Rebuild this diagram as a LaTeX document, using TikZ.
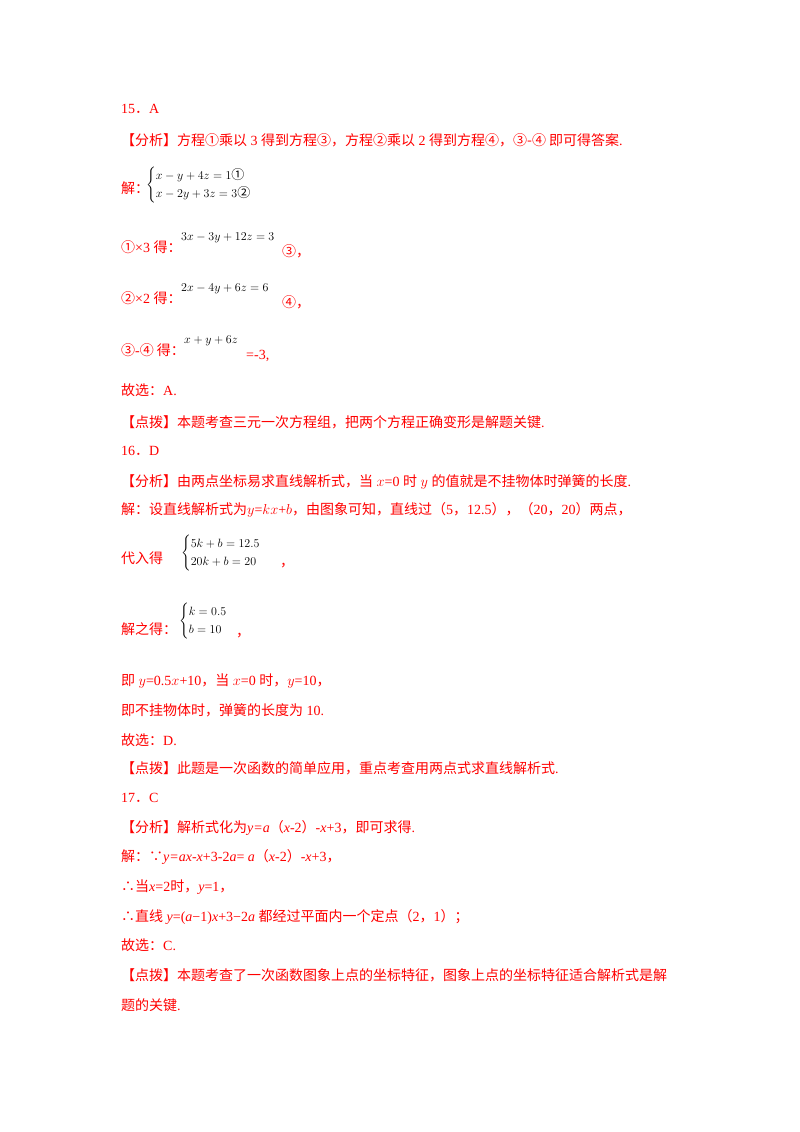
\documentclass[tikz,border=0pt]{standalone}
\usepackage{amsmath}
\usepackage{fontspec}
\setmainfont{Liberation Serif}
\newfontfamily\cjk{Noto Sans CJK SC}
\definecolor{rd}{HTML}{FF0000}
\newcommand{\C}[1]{{\cjk #1}}
\begin{document}
\begin{tikzpicture}[x=1pt,y=-1pt,
  t/.style={anchor=base west,inner sep=0pt,text=rd,font=\fontsize{14}{16}\selectfont},
  eq/.style={anchor=base west,inner sep=0pt,text=black,font=\fontsize{13}{15}\selectfont}]
\useasboundingbox (0,0) rectangle (800,1132);
\node[t] (a1) at (121,113) {15\C{．}A};
\node[t] (a2) at (121,145) {\C{【分析】方程①乘以} 3 \C{得到方程③，方程②乘以} 2 \C{得到方程④，③-④ 即可得答案}.};
\node[t] (a3) at (121,193) {\C{解：}};
\node[eq] (a4) at (146,188) {$\begin{cases}x-y+4z=1\text{\C{①}}\\ x-2y+3z=3\text{\C{②}}\end{cases}$};
\node[t] (a5) at (121,252) {\C{①}×3 \C{得：}};
\node[eq] (a6) at (181,240) {$3x-3y+12z=3$};
\node[t] (a7) at (282,256) {\C{③，}};
\node[t] (a8) at (121,303) {\C{②}×2 \C{得：}};
\node[eq] (a9) at (181,291) {$2x-4y+6z=6$};
\node[t] (a10) at (282,307) {\C{④，}};
\node[t] (a11) at (121,355) {\C{③}-\C{④ 得：}};
\node[eq] (a12) at (184,343) {$x+y+6z$};
\node[t] (a13) at (246,359) {=-3,};
\node[t] (a14) at (121,395) {\C{故选：}A.};
\node[t] (a15) at (121,427) {\C{【点拨】本题考查三元一次方程组，把两个方程正确变形是解题关键}.};
\node[t] (b1) at (121,455) {16\C{．}D};
\node[t] (b2) at (121,486) {\C{【分析】由两点坐标易求直线解析式，当} $x$=0 \C{时} $y$ \C{的值就是不挂物体时弹簧的长度}.};
\node[t] (b3) at (121,514) {\C{解：设直线解析式为}$y$=$kx$+$b$\C{，由图象可知，直线过（}5\C{，}12.5\C{），（}20\C{，}20\C{）两点，}};
\node[eq] (b5) at (181,556) {$\begin{cases}5k+b=12.5\\ 20k+b=20\end{cases}$};
\node[t] (b4) at (121,563) {\C{代入得}};
\node[t] (b5b) at (280,566) {\C{，}};
\node[t] (b6) at (121,634) {\C{解之得：}};
\node[eq] (b7) at (179,624) {$\begin{cases}k=0.5\\ b=10\end{cases}$};
\node[t] (b7b) at (236,636) {\C{，}};
\node[t] (b8) at (121,685) {\C{即} $y$=0.5$x$+10\C{，当} $x$=0 \C{时，}$y$=10\C{，}};
\node[t] (b9) at (121,715) {\C{即不挂物体时，弹簧的长度为} 10.};
\node[t] (b10) at (121,745) {\C{故选：}D.};
\node[t] (b11) at (121,773) {\C{【点拨】此题是一次函数的简单应用，重点考查用两点式求直线解析式}.};
\node[t] (c1) at (121,802) {17\C{．}C};
\node[t] (c2) at (121,832) {\C{【分析】解析式化为}\textit{y=a}\C{（}\textit{x}-2\C{）}-\textit{x}+3\C{，即可求得}.};
\node[t] (c3) at (121,861) {\C{解：∵}\textit{y=ax-x}+3-2\textit{a}= \textit{a}\C{（}\textit{x}-2\C{）}-\textit{x}+3\C{，}};
\node[t] (c4) at (121,891) {\C{∴当}\textit{x}=2\C{时，}\textit{y}=1\C{，}};
\node[t] (c5) at (121,921) {\C{∴直线} \textit{y}=(\textit{a}−1)\textit{x}+3−2\textit{a} \C{都经过平面内一个定点（}2\C{，}1\C{）；}};
\node[t] (c6) at (121,950) {\C{故选：}C.};
\node[t] (c7) at (121,980) {\C{【点拨】本题考查了一次函数图象上点的坐标特征，图象上点的坐标特征适合解析式是解}};
\node[t] (c8) at (121,1010) {\C{题的关键}.};
\end{tikzpicture}
\end{document}
